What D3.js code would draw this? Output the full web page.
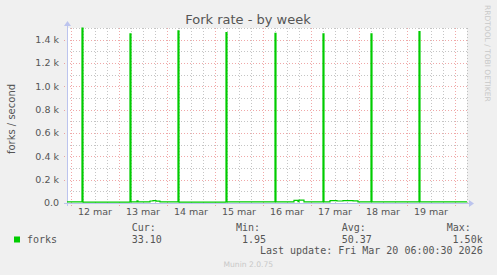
<!DOCTYPE html>
<html>
<head>
<meta charset="utf-8">
<script src="https://cdn.jsdelivr.net/npm/d3@7"></script>
<style>
  body { margin: 0; background: #f0f0f0; }
  svg { display: block; }
  text { font-family: "DejaVu Sans", sans-serif; fill: #555; }
  .mono { font-family: "DejaVu Sans Mono", monospace; font-size: 10px; }
</style>
</head>
<body>
<div id="chart"></div>
<script>
// fork rate samples (step vertices, value holds until next time)
const sampleTimes = [
  "2026-03-11 22:00", "2026-03-12 05:30", "2026-03-12 06:00",
  "2026-03-13 05:30", "2026-03-13 06:00", "2026-03-13 09:00", "2026-03-13 09:30",
  "2026-03-13 15:30", "2026-03-13 17:00", "2026-03-13 18:30", "2026-03-13 20:30",
  "2026-03-14 05:30", "2026-03-14 06:00",
  "2026-03-15 05:30", "2026-03-15 06:00",
  "2026-03-16 06:00", "2026-03-16 06:30", "2026-03-16 15:30", "2026-03-16 17:30",
  "2026-03-16 18:00", "2026-03-16 20:30",
  "2026-03-17 06:00", "2026-03-17 06:30", "2026-03-17 09:30", "2026-03-17 13:00",
  "2026-03-17 16:00", "2026-03-17 21:00", "2026-03-17 23:30",
  "2026-03-18 06:00", "2026-03-18 06:30",
  "2026-03-19 06:00", "2026-03-19 06:30",
  "2026-03-20 06:00"
];
const forks = [
  9, 1500, 8,
  1450, 10, 18, 10,
  17, 20, 16, 10,
  1475, 8,
  1460, 9,
  1455, 10, 22, 12,
  24, 10,
  1450, 10, 20, 17,
  21, 18, 10,
  1450, 9,
  1470, 10,
  10
];
const yTicks = [0, 200, 400, 600, 800, 1000, 1200, 1400];
const yMinorTicks = [100, 300, 500, 700, 900, 1100, 1300, 1500];
const legendHeads = ["Cur:", "Min:", "Avg:", "Max:"];
const legendValues = ["33.10", "1.95", "50.37", "1.50k"];
const timeRange = ["2026-03-11 22:00:30", "2026-03-20 06:00:30"];

const config = {
  width: 497, height: 275,
  margin: {top: 28, left: 67},
  plotW: 400, plotH: 175,
  lineColor: "#00cc00"
};

const parse = d3.utcParse("%Y-%m-%d %H:%M");
const parseS = d3.utcParse("%Y-%m-%d %H:%M:%S");
const data = sampleTimes.map((t, i) => ({date: parse(t), value: forks[i]}));

const svg = d3.select("#chart").append("svg")
  .attr("width", config.width)
  .attr("height", config.height);

svg.append("rect").attr("width", config.width).attr("height", config.height).attr("fill", "#f0f0f0");

const chart = svg.append("g")
  .attr("transform", `translate(${config.margin.left},${config.margin.top})`);

const xScale = d3.scaleUtc()
  .domain(timeRange.map(parseS))
  .range([0, config.plotW]);
const yScale = d3.scaleLinear()
  .domain([0, 1500])
  .range([config.plotH, 0]);

chart.append("rect")
  .attr("width", config.plotW).attr("height", config.plotH)
  .attr("fill", "#fff");

// grid
const [t0, t1] = xScale.domain();
const minorTimes = d3.utcHour.every(6).range(t0, t1).filter(d => d.getUTCHours() !== 0);
const dayTimes = d3.utcDay.range(t0, t1);
const noonTimes = dayTimes.map(d => d3.utcHour.offset(d, 12)).filter(d => d < t1);

const gridMinor = "rgba(140,140,140,0.5)";
const gridMajor = "rgba(230,110,110,0.6)";

chart.selectAll(".vminor").data(minorTimes).join("line")
  .attr("x1", d => Math.round(xScale(d)) + 0.5).attr("x2", d => Math.round(xScale(d)) + 0.5)
  .attr("y1", 0).attr("y2", config.plotH)
  .attr("stroke", gridMinor).attr("stroke-dasharray", "1,2");
chart.selectAll(".hminor").data(yMinorTicks).join("line")
  .attr("x1", 0).attr("x2", config.plotW)
  .attr("y1", d => Math.round(yScale(d)) + 0.5).attr("y2", d => Math.round(yScale(d)) + 0.5)
  .attr("stroke", gridMinor).attr("stroke-dasharray", "1,2");
chart.selectAll(".vmajor").data(dayTimes).join("line")
  .attr("x1", d => Math.round(xScale(d)) + 0.5).attr("x2", d => Math.round(xScale(d)) + 0.5)
  .attr("y1", 0).attr("y2", config.plotH + 3)
  .attr("stroke", gridMajor).attr("stroke-dasharray", "1,2");
chart.selectAll(".hmajor").data(yTicks.filter(d => d > 0)).join("line")
  .attr("x1", -3).attr("x2", config.plotW)
  .attr("y1", d => Math.round(yScale(d)) + 0.5).attr("y2", d => Math.round(yScale(d)) + 0.5)
  .attr("stroke", gridMajor).attr("stroke-dasharray", "1,2");

// axes
const axisColor = "#bcc4ee";
chart.append("line")
  .attr("x1", -3).attr("x2", config.plotW + 2)
  .attr("y1", config.plotH + 0.5).attr("y2", config.plotH + 0.5)
  .attr("stroke", axisColor);
chart.append("line")
  .attr("x1", 0.5).attr("x2", 0.5)
  .attr("y1", config.plotH + 3).attr("y2", -3)
  .attr("stroke", axisColor);
chart.append("path")
  .attr("d", `M${config.plotW + 2},${config.plotH - 3}L${config.plotW + 7},${config.plotH + 0.5}L${config.plotW + 2},${config.plotH + 4}Z`)
  .attr("fill", axisColor);
chart.append("path")
  .attr("d", `M-3,-2L0.5,-7L4,-2Z`)
  .attr("fill", axisColor);

// y tick labels
chart.selectAll(".ylab").data(yTicks).join("text")
  .attr("x", -8).attr("y", d => yScale(d))
  .attr("dy", "0.36em")
  .attr("text-anchor", "end")
  .style("font-size", "9.5px")
  .text(d => d === 0 ? "0.0" : d3.format(".1f")(d / 1000) + " k");

// x tick labels
const fmtDay = d3.utcFormat("%d %b");
chart.selectAll(".xlab").data(noonTimes).join("text")
  .attr("x", d => xScale(d)).attr("y", config.plotH + 12)
  .attr("text-anchor", "middle")
  .style("font-size", "9.5px")
  .text(d => fmtDay(d).toLowerCase());

// series line
const line = d3.line()
  .x(d => xScale(d.date))
  .y(d => yScale(d.value))
  .curve(d3.curveStepAfter);
chart.append("path")
  .datum(data)
  .attr("d", line)
  .attr("fill", "none")
  .attr("stroke", config.lineColor)
  .attr("stroke-width", 1.2);

// title & axis title
svg.append("text")
  .attr("x", 248).attr("y", 23.5)
  .attr("text-anchor", "middle")
  .style("font-size", "13px")
  .text("Fork rate - by week");
svg.append("text")
  .attr("transform", "translate(14.5,119) rotate(-90)")
  .attr("text-anchor", "middle")
  .style("font-size", "10px")
  .text("forks / second");
svg.append("text")
  .attr("transform", "translate(485,5) rotate(90)")
  .style("font-size", "7.5px")
  .style("fill", "#c8c8c8")
  .text("RRDTOOL / TOBI OETIKER");

// legend
svg.append("rect")
  .attr("x", 14).attr("y", 236.5).attr("width", 6).attr("height", 6)
  .attr("fill", config.lineColor);
svg.append("text").attr("class", "mono")
  .attr("x", 27).attr("y", 242.5).text("forks");
const headX = [131.7, 236, 341.7, 446.7];
const valX = [131.7, 266, 341.7, 482.7];
const valAnchor = ["start", "end", "start", "end"];
svg.selectAll(".lhead").data(legendHeads).join("text")
  .attr("class", "mono")
  .attr("x", (d, i) => headX[i]).attr("y", 231)
  .text(d => d);
svg.selectAll(".lval").data(legendValues).join("text")
  .attr("class", "mono")
  .attr("x", (d, i) => valX[i]).attr("y", 242.5)
  .attr("text-anchor", (d, i) => valAnchor[i])
  .text(d => d);
svg.append("text").attr("class", "mono")
  .attr("x", 482.7).attr("y", 253.5)
  .attr("text-anchor", "end")
  .text("Last update: Fri Mar 20 06:00:30 2026");
svg.append("text")
  .attr("x", 248.3).attr("y", 267)
  .attr("text-anchor", "middle")
  .style("font-size", "7.6px")
  .style("fill", "#c8c8c8")
  .text("Munin 2.0.75");
</script>
</body>
</html>
